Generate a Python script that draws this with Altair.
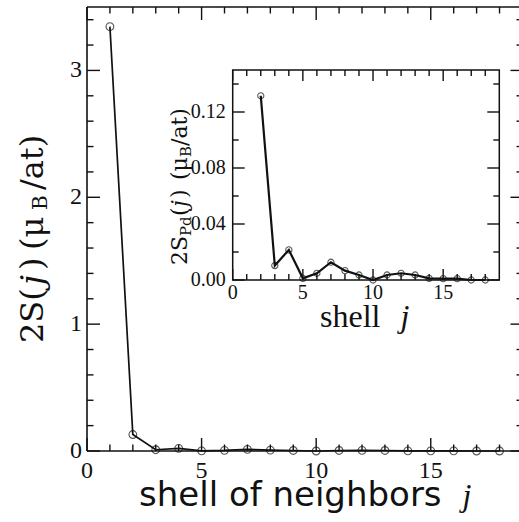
import altair as alt
import pandas as pd

# ---------------- data ----------------
shells = list(range(1, 19))
total_moment = [3.345, 0.13, 0.010, 0.021, 0.001, 0.005, 0.013, 0.007, 0.004,
                0.0, 0.004, 0.005, 0.004, 0.001, 0.001, 0.001, 0.0, 0.0]
pd_shells = list(range(2, 19))
pd_moment = [0.1316, 0.0103, 0.0215, 0.0012, 0.0048, 0.0127, 0.0067, 0.0036,
             0.0, 0.0036, 0.0048, 0.0036, 0.0012, 0.001, 0.001, 0.0, 0.0]

main_x_major = [0, 5, 10, 15]
main_x_labels = ["0", "5", "10", "15"]
main_x_minor = [1, 2, 3, 4, 6, 7, 8, 9, 11, 12, 13, 14, 16, 17, 18]
main_y_major = [0, 1, 2, 3]
main_y_labels = ["0", "1", "2", "3"]
main_y_minor = [0.2, 0.4, 0.6, 0.8, 1.2, 1.4, 1.6, 1.8, 2.2, 2.4, 2.6, 2.8, 3.2, 3.4]

inset_x_major = [0, 5, 10, 15]
inset_x_labels = ["0", "5", "10", "15"]
inset_x_minor = [1, 2, 3, 4, 6, 7, 8, 9, 11, 12, 13, 14, 16, 17, 18]
inset_y_major = [0.0, 0.04, 0.08, 0.12]
inset_y_labels = ["0.00", "0.04", "0.08", "0.12"]
inset_y_minor = [0.02, 0.06, 0.10, 0.14]

# ---------------- layout ----------------
W, H = 432, 444
PADL, PADT = 87, 7
MAIN_X_DOM = [0, 18.85]
MAIN_Y_DOM = [0, 3.5]
IN_X_DOM = [0, 19]
IN_Y_DOM = [0, 0.15]
IN_L, IN_R = 232.7 - PADL, 499.3 - PADL
IN_T, IN_B = 70 - PADT, 280 - PADT

SERIF = "Liberation Serif, Times New Roman, serif"
DSERIF = "DejaVu Serif, serif"
SANS = "DejaVu Sans, sans-serif"
INK = "#111111"

mx = alt.Scale(domain=MAIN_X_DOM, nice=False, zero=False)
my = alt.Scale(domain=MAIN_Y_DOM, nice=False, zero=False)
ix = alt.Scale(domain=IN_X_DOM, range=[IN_L, IN_R], nice=False, zero=False)
iy = alt.Scale(domain=IN_Y_DOM, range=[IN_B, IN_T], nice=False, zero=False)

one = pd.DataFrame({"a": [0]})


def txt(s, x, y, size, font, style="normal", angle=None, align="left", baseline="alphabetic"):
    kw = dict(text=s, fontSize=size, font=font, fontStyle=style, align=align,
              baseline=baseline, color=INK)
    if angle is not None:
        kw["angle"] = angle
    return alt.Chart(one).mark_text(**kw).encode(x=alt.value(x), y=alt.value(y))


def xticks(vals, xs, y0, y1, sw=1.4):
    return alt.Chart(pd.DataFrame({"v": vals})).mark_rule(color=INK, strokeWidth=sw).encode(
        x=alt.X("v:Q", scale=xs, axis=None), y=alt.value(y0), y2=alt.value(y1))


def yticks(vals, ys, x0, x1, sw=1.4):
    return alt.Chart(pd.DataFrame({"v": vals})).mark_rule(color=INK, strokeWidth=sw).encode(
        y=alt.Y("v:Q", scale=ys, axis=None), x=alt.value(x0), x2=alt.value(x1))


def border(x0, x1, y0, y1, sw=1.6):
    return alt.Chart(one).mark_rule(color=INK, strokeWidth=sw).encode(
        x=alt.value(x0), x2=alt.value(x1), y=alt.value(y0), y2=alt.value(y1))


# ---------------- main panel ----------------
df_main = pd.DataFrame({"j": shells, "s": total_moment})
main_line = alt.Chart(df_main).mark_line(color=INK, strokeWidth=1.7).encode(
    x=alt.X("j:Q", scale=mx, axis=None), y=alt.Y("s:Q", scale=my, axis=None))
main_pts = alt.Chart(df_main).mark_point(shape="circle", filled=False, size=60,
                                         color=INK, strokeWidth=1.1).encode(
    x=alt.X("j:Q", scale=mx, axis=None), y=alt.Y("s:Q", scale=my, axis=None))

main_xlab = alt.Chart(pd.DataFrame({"v": main_x_major, "t": main_x_labels})).mark_text(
    font=SERIF, fontSize=24, baseline="alphabetic", align="center", color=INK).encode(
    x=alt.X("v:Q", scale=mx, axis=None), y=alt.value(H + 27), text="t:N")
main_ylab = alt.Chart(pd.DataFrame({"v": main_y_major, "t": main_y_labels})).mark_text(
    font=SERIF, fontSize=24, baseline="middle", align="right", color=INK).encode(
    y=alt.Y("v:Q", scale=my, axis=None), x=alt.value(-5), text="t:N")

main_layers = [
    border(0, 0, 0, H), border(0, W, 0, 0), border(0, W, H, H),
    xticks(main_x_major, mx, H, H - 13), xticks(main_x_minor, mx, H, H - 6.5),
    xticks(main_x_major, mx, 0, 13), xticks(main_x_minor, mx, 0, 6.5),
    yticks(main_y_major, my, 0, 13), yticks(main_y_minor, my, 0, 6.5),
    yticks(main_y_major, my, W, W - 8.5), yticks(main_y_minor, my, W, W - 2.5),
    main_line, main_pts, main_xlab, main_ylab,
    # x title
    txt("shell of neighbors", 139 - PADL, 506 - PADT, 34, SANS),
    txt("j", 467 - PADL, 506 - PADT, 32, SERIF, style="italic", align="center"),
    # y title (rotated)
    txt("2S(", 43 - PADL, 343 - PADT, 32, DSERIF, angle=270),
    txt("j", 43 - PADL, 285 - PADT, 32, DSERIF, style="italic", angle=270),
    txt(")", 43 - PADL, 270 - PADT, 32, DSERIF, angle=270),
    txt("(\u03bc", 43 - PADL, 250 - PADT, 32, DSERIF, angle=270),
    txt("B", 47 - PADL, 210 - PADT, 20, DSERIF, angle=270),
    txt("/at)", 43 - PADL, 190 - PADT, 32, DSERIF, angle=270),
]
main_group = alt.layer(*main_layers)

# ---------------- inset ----------------
frame = alt.Chart(pd.DataFrame({"x0": [IN_X_DOM[0]], "x1": [IN_X_DOM[1]],
                                "y0": [IN_Y_DOM[0]], "y1": [IN_Y_DOM[1]]})).mark_rect(
    fill="white", stroke=INK, strokeWidth=1.5).encode(
    x=alt.X("x0:Q", scale=ix, axis=None), x2="x1:Q",
    y=alt.Y("y0:Q", scale=iy, axis=None), y2="y1:Q")

df_in = pd.DataFrame({"j": pd_shells, "s": pd_moment})
in_line = alt.Chart(df_in).mark_line(color=INK, strokeWidth=2.2).encode(
    x=alt.X("j:Q", scale=ix, axis=None), y=alt.Y("s:Q", scale=iy, axis=None))
in_pts = alt.Chart(df_in).mark_point(shape="circle", filled=False, size=38,
                                     color=INK, strokeWidth=1.1).encode(
    x=alt.X("j:Q", scale=ix, axis=None), y=alt.Y("s:Q", scale=iy, axis=None))

in_xlab = alt.Chart(pd.DataFrame({"v": inset_x_major, "t": inset_x_labels})).mark_text(
    font=SERIF, fontSize=20, baseline="alphabetic", align="center", color=INK).encode(
    x=alt.X("v:Q", scale=ix, axis=None), y=alt.value(IN_B + 18.5), text="t:N")
in_ylab = alt.Chart(pd.DataFrame({"v": inset_y_major, "t": inset_y_labels})).mark_text(
    font=SERIF, fontSize=20, baseline="middle", align="right", color=INK).encode(
    y=alt.Y("v:Q", scale=iy, axis=None), x=alt.value(IN_L - 7), text="t:N")

TB = 187  # baseline (page x) of the rotated inset title
inset_layers = [
    frame,
    xticks(inset_x_major, ix, IN_B, IN_B - 11), xticks(inset_x_minor, ix, IN_B, IN_B - 6),
    xticks(inset_x_major, ix, IN_T, IN_T + 11), xticks(inset_x_minor, ix, IN_T, IN_T + 6),
    yticks(inset_y_major, iy, IN_L, IN_L + 12), yticks(inset_y_minor, iy, IN_L, IN_L + 6),
    yticks(inset_y_major, iy, IN_R, IN_R - 12), yticks(inset_y_minor, iy, IN_R, IN_R - 6),
    in_line, in_pts, in_xlab, in_ylab,
    txt("shell", 320 - PADL, 327 - PADT, 32, SERIF),
    txt("j", 405 - PADL, 327 - PADT, 32, SERIF, style="italic", align="center"),
    # inset y title (rotated)
    txt("2S", TB - PADL, 265 - PADT, 22, DSERIF, angle=270),
    txt("Pd", TB + 4 - PADL, 236 - PADT, 15, DSERIF, angle=270),
    txt("(", TB - PADL, 216 - PADT, 22, DSERIF, angle=270),
    txt("j", TB - PADL, 207 - PADT, 22, DSERIF, style="italic", angle=270),
    txt(")", TB - PADL, 198 - PADT, 22, DSERIF, angle=270),
    txt("(\u03bc", TB - PADL, 180 - PADT, 22, DSERIF, angle=270),
    txt("B", TB + 4 - PADL, 157 - PADT, 15, DSERIF, angle=270),
    txt("/at)", TB - PADL, 146 - PADT, 22, DSERIF, angle=270),
]
inset_group = alt.layer(*inset_layers)

chart = alt.layer(main_group, inset_group).resolve_scale(
    x="independent", y="independent"
).properties(
    width=W, height=H, autosize="none",
    padding={"left": PADL, "top": PADT, "right": 0, "bottom": 522 - PADT - H},
    background="white",
).configure_view(strokeWidth=0)

chart.save("out.html", embed_options={"renderer": "svg", "actions": False})
